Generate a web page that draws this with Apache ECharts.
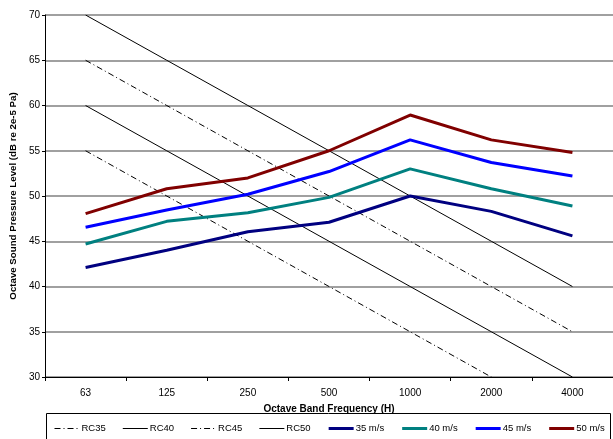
<!DOCTYPE html>
<html>
<head>
<meta charset="utf-8">
<script src="https://cdn.jsdelivr.net/npm/echarts@6/dist/echarts.min.js"></script>
<style>
html,body{margin:0;padding:0;background:#fff;}
#chart{width:613px;height:439px;}
</style>
</head>
<body>
<div id="chart"></div>
<script>
var categories = ['63', '125', '250', '500', '1000', '2000', '4000'];
var rc35 = [55, 50, 45, 40, 35, 30, 25];
var rc40 = [60, 55, 50, 45, 40, 35, 30];
var rc45 = [65, 60, 55, 50, 45, 40, 35];
var rc50 = [70, 65, 60, 55, 50, 45, 40];
var s35 = [42.1, 44.0, 46.05, 47.1, 50.0, 48.3, 45.6];
var s40 = [44.7, 47.2, 48.15, 49.85, 53.0, 50.8, 48.9];
var s45 = [46.55, 48.45, 50.2, 52.7, 56.2, 53.7, 52.2];
var s50 = [48.05, 50.8, 52.0, 55.0, 58.95, 56.2, 54.8];
var yTicks = [30, 35, 40, 45, 50, 55, 60, 65, 70];
var rcNames = ['RC35', 'RC40', 'RC45', 'RC50'];
var speedNames = ['35 m/s', '40 m/s', '45 m/s', '50 m/s'];

var FONT = '"Liberation Sans", Arial, sans-serif';
var dashDot = [6, 3, 1, 3];

function rcSeries(name, data, dashed) {
  return {
    name: name, type: 'line', data: data, symbol: 'none', clip: true,
    lineStyle: { color: '#000', width: 1, type: dashed ? dashDot : 'solid' },
    itemStyle: { color: '#000' },
    emphasis: { disabled: true }, animation: false, z: 2
  };
}
function dataSeries(name, data, color) {
  return {
    name: name, type: 'line', data: data, symbol: 'none', clip: true,
    lineStyle: { color: color, width: 3 },
    itemStyle: { color: color },
    emphasis: { disabled: true }, animation: false, z: 3
  };
}

var legendData = [];
rcNames.forEach(function (n, i) {
  legendData.push({ name: n, lineStyle: { width: 1, color: '#000', type: (i % 2 === 0) ? dashDot : 'solid' } });
});
speedNames.forEach(function (n) {
  legendData.push({ name: n, lineStyle: { width: 3 } });
});

var chart = echarts.init(document.getElementById('chart'), null, { renderer: 'canvas' });
chart.setOption({
  animation: false,
  backgroundColor: '#fff',
  textStyle: { fontFamily: FONT },
  grid: { left: 44, right: -2, top: 15, bottom: 62 },
  xAxis: {
    type: 'category',
    data: categories,
    boundaryGap: true,
    name: 'Octave Band Frequency (H)',
    nameLocation: 'middle',
    nameGap: 27,
    nameTextStyle: { fontFamily: FONT, fontWeight: 'bold', fontSize: 10, color: '#000' },
    axisLine: { lineStyle: { color: '#000', width: 1 } },
    axisTick: { show: true, length: 4, lineStyle: { color: '#000' } },
    axisLabel: { fontFamily: FONT, fontSize: 10, color: '#000', margin: 11 },
    splitLine: { show: false }
  },
  yAxis: {
    type: 'value',
    min: yTicks[0],
    max: yTicks[yTicks.length - 1],
    interval: 5,
    name: 'Octave Sound Pressure Level (dB re 2e-5 Pa)',
    nameLocation: 'middle',
    nameGap: 26,
    nameTextStyle: { fontFamily: FONT, fontWeight: 'bold', fontSize: 9.7, color: '#000' },
    axisLine: { show: true, lineStyle: { color: '#000', width: 1 } },
    axisTick: { show: true, length: 3, lineStyle: { color: '#000' } },
    axisLabel: { fontFamily: FONT, fontSize: 10, color: '#000', margin: 5 },
    splitLine: { show: true, lineStyle: { color: '#808080', width: 1.5 } }
  },
  legend: {
    left: 54,
    top: 423.5,
    padding: 0,
    itemWidth: 25,
    itemHeight: 12,
    itemGap: 16.5,
    itemStyle: { opacity: 0, borderWidth: 0 },
    lineStyle: { opacity: 1 },
    textStyle: { fontFamily: FONT, fontSize: 9.5, color: '#000', padding: [0, 0, 0, -3] },
    data: legendData
  },
  graphic: [{
    type: 'rect',
    shape: { x: 46.5, y: 413.5, width: 564, height: 40 },
    style: { fill: null, stroke: '#000', lineWidth: 1 },
    silent: true
  }],
  series: [
    rcSeries(rcNames[0], rc35, true),
    rcSeries(rcNames[1], rc40, false),
    rcSeries(rcNames[2], rc45, true),
    rcSeries(rcNames[3], rc50, false),
    dataSeries(speedNames[0], s35, '#000080'),
    dataSeries(speedNames[1], s40, '#008080'),
    dataSeries(speedNames[2], s45, '#0000ff'),
    dataSeries(speedNames[3], s50, '#800000')
  ]
});
</script>
</body>
</html>
